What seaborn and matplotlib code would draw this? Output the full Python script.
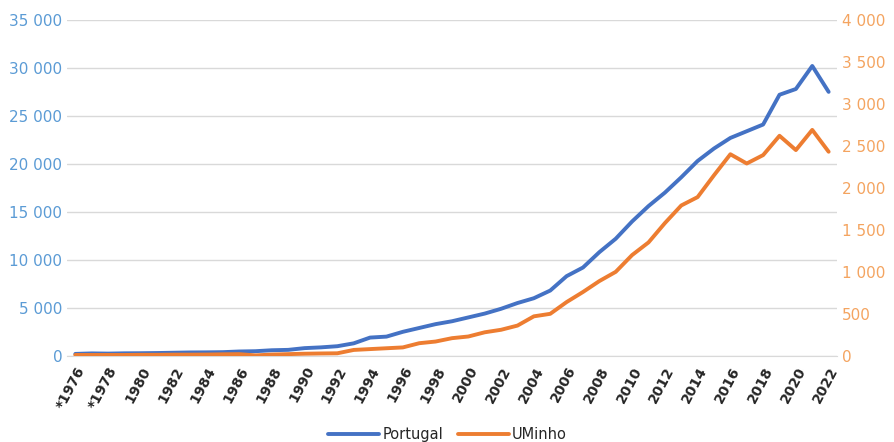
import matplotlib
matplotlib.use("Agg")
import matplotlib.pyplot as plt
import seaborn as sns
import pandas as pd
from matplotlib.ticker import FuncFormatter

sns.set_style("white")
plt.rcParams['font.family'] = ['Liberation Sans Narrow', 'DejaVu Sans']

years = list(range(1976, 2023))
year_labels = ['*1976', '*1977', '*1978'] + [str(y) for y in range(1979, 2023)]
portugal = [200, 250, 230, 260, 270, 290, 320, 350, 360, 380, 450, 480, 580, 620, 800,
            880, 1000, 1300, 1900, 2000, 2500, 2900, 3300, 3600, 4000, 4400, 4900, 5500,
            6000, 6800, 8300, 9200, 10800, 12200, 14000, 15600, 17000, 18600, 20300,
            21600, 22700, 23400, 24100, 27200, 27800, 30200, 27500]
uminho = [10, 10, 10, 10, 12, 12, 14, 14, 15, 18, 20, 5, 15, 20, 25, 28, 30, 70, 80, 90,
          100, 150, 170, 210, 230, 280, 310, 360, 470, 500, 640, 760, 890, 1000, 1200,
          1350, 1580, 1790, 1890, 2150, 2400, 2290, 2390, 2620, 2450, 2690, 2430]

df = pd.DataFrame({'x': range(len(years)), 'Portugal': portugal, 'UMinho': uminho})
blue, orange = '#4472C4', '#ED7D31'

fig, ax = plt.subplots(figsize=(8.95, 4.42), dpi=100)
ax2 = ax.twinx()
sns.lineplot(data=df, x='x', y='Portugal', ax=ax, color=blue, lw=2.8, label='Portugal', legend=False)
sns.lineplot(data=df, x='x', y='UMinho', ax=ax2, color=orange, lw=2.8, label='UMinho', legend=False)

fmt = FuncFormatter(lambda v, p: f"{int(v):,}".replace(',', ' '))
ax.set_ylim(0, 35000)
ax.set_yticks(range(0, 35001, 5000))
ax.yaxis.set_major_formatter(fmt)
ax2.set_ylim(0, 4000)
ax2.set_yticks(range(0, 4001, 500))
ax2.yaxis.set_major_formatter(fmt)
ax.tick_params(axis='y', colors='#5B9BD5', labelsize=11, length=0)
ax2.tick_params(axis='y', colors='#F4A460', labelsize=11, length=0)
ax.grid(axis='y', color='#d9d9d9', lw=1)
ax.set_xlim(-0.5, len(years) - 0.5)
ax.set_xticks([i - 0.5 for i in range(len(years) + 1)], minor=True)
ax.set_xticks(range(0, len(years), 2))
ax.set_xticklabels(year_labels[::2], rotation=62, ha='right', rotation_mode='anchor',
                   fontsize=10, fontweight='bold')
ax.tick_params(axis='x', which='major', length=0, pad=6)
ax.tick_params(axis='x', which='minor', length=5, color='#d9d9d9')
ax.set_xlabel('')
ax.set_ylabel('')
ax2.set_ylabel('')
for a in (ax, ax2):
    for s in a.spines.values():
        s.set_visible(False)
ax.spines['bottom'].set_visible(True)
ax.spines['bottom'].set_color('#d9d9d9')

h1, l1 = ax.get_legend_handles_labels()
h2, l2 = ax2.get_legend_handles_labels()
fig.legend(h1 + h2, l1 + l2, loc='lower center', ncol=2, frameon=False, fontsize=10.5,
           bbox_to_anchor=(0.5, -0.03), handlelength=3.5, columnspacing=1, handletextpad=0.2)
fig.subplots_adjust(left=0.075, right=0.935, top=0.955, bottom=0.195)
fig.savefig('out.png', dpi=100)
